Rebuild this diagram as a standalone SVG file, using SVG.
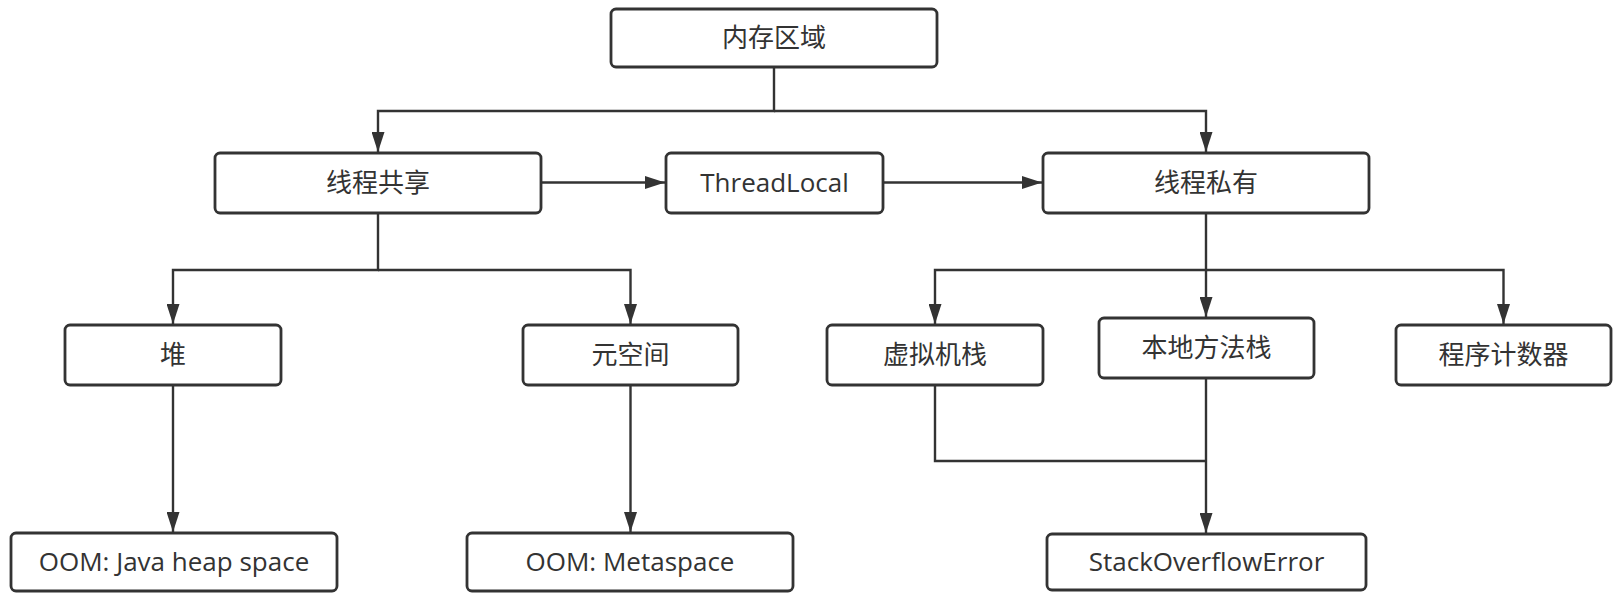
<svg xmlns="http://www.w3.org/2000/svg" width="1622" height="604" viewBox="0 0 1622 604">
<style>
.box{fill:#fff;stroke:#333;stroke-width:2.8}
.lbl{font-family:"Open Sans","Noto Sans CJK SC",sans-serif;font-size:26px;fill:#333;text-anchor:middle}
.ln{fill:none;stroke:#333;stroke-width:2.4}
.ar{marker-end:url(#arr)}
</style>
<defs>
<marker id="arr" viewBox="0 0 20 13" refX="20" refY="6.5" markerWidth="20" markerHeight="13" markerUnits="userSpaceOnUse" orient="auto">
<path d="M0,0 L20,6.5 L0,13 z" fill="#333"/>
</marker>
</defs>
<rect width="1622" height="604" fill="#fff"/>
<g id="connectors">
<path class="ln ar" d="M774,67 V111 H378 V152"/>
<path class="ln ar" d="M774,111 H1206 V152"/>
<path class="ln ar" d="M541,182.5 H665"/>
<path class="ln ar" d="M883,182.5 H1042"/>
<path class="ln ar" d="M378,213 V270 H173 V324"/>
<path class="ln ar" d="M378,270 H630.5 V324"/>
<path class="ln ar" d="M1206,213 V270 H935 V324"/>
<path class="ln ar" d="M1206,270 V317"/>
<path class="ln ar" d="M1206,270 H1503.5 V324"/>
<path class="ln ar" d="M173,385 V532"/>
<path class="ln ar" d="M630.5,385 V532"/>
<path class="ln" d="M935,385 V461 H1206"/>
<path class="ln ar" d="M1206,378 V533"/>
</g>
<g id="n1"><rect class="box" x="611" y="9" width="326" height="58" rx="5"/><text class="lbl" x="774" y="47">内存区域</text></g>
<g id="n2"><rect class="box" x="215" y="153" width="326" height="60" rx="5"/><text class="lbl" x="378" y="192">线程共享</text></g>
<g id="n3"><rect class="box" x="666" y="153" width="217" height="60" rx="5"/><text class="lbl" x="774.5" y="192">ThreadLocal</text></g>
<g id="n4"><rect class="box" x="1043" y="153" width="326" height="60" rx="5"/><text class="lbl" x="1206" y="192">线程私有</text></g>
<g id="n5"><rect class="box" x="65" y="325" width="216" height="60" rx="5"/><text class="lbl" x="173" y="364">堆</text></g>
<g id="n6"><rect class="box" x="523" y="325" width="215" height="60" rx="5"/><text class="lbl" x="630.5" y="364">元空间</text></g>
<g id="n7"><rect class="box" x="827" y="325" width="216" height="60" rx="5"/><text class="lbl" x="935" y="364">虚拟机栈</text></g>
<g id="n8"><rect class="box" x="1099" y="318" width="215" height="60" rx="5"/><text class="lbl" x="1206.5" y="357">本地方法栈</text></g>
<g id="n9"><rect class="box" x="1396" y="325" width="215" height="60" rx="5"/><text class="lbl" x="1503.5" y="364">程序计数器</text></g>
<g id="n10"><rect class="box" x="11" y="533" width="326" height="58" rx="5"/><text class="lbl" x="174" y="571">OOM: Java heap space</text></g>
<g id="n11"><rect class="box" x="467" y="533" width="326" height="58" rx="5"/><text class="lbl" x="630" y="571">OOM: Metaspace</text></g>
<g id="n12"><rect class="box" x="1047" y="534" width="319" height="56" rx="5"/><text class="lbl" x="1206.5" y="571">StackOverflowError</text></g>
</svg>
